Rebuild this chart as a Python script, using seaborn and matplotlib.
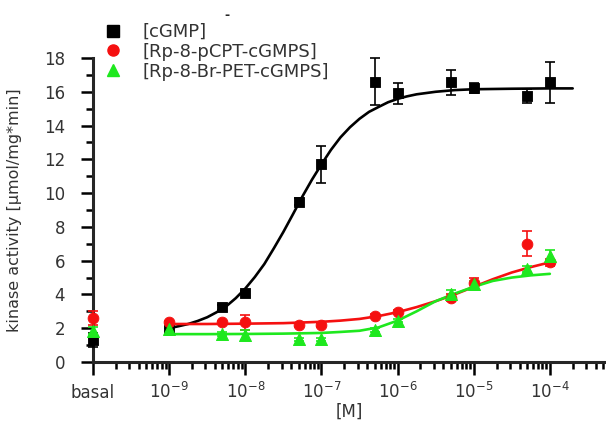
import numpy as np
import matplotlib
matplotlib.use('Agg')
import matplotlib.pyplot as plt
import matplotlib.ticker as mticker
from matplotlib.lines import Line2D
import seaborn as sns

# concentrations [M]; "basal" sits at the left end of the axis (1e-10)
conc = [1e-10, 1e-9, 5e-9, 1e-8, 5e-8, 1e-7, 5e-7, 1e-6, 5e-6, 1e-5, 5e-5, 1e-4]

cgmp = [1.3, 1.9, 3.25, 4.1, 9.5, 11.7, 16.6, 15.9, 16.55, 16.2, 15.75, 16.55]
cgmp_err = [0.4, 0.1, 0.15, 0.1, 0.2, 1.1, 1.4, 0.6, 0.75, 0.3, 0.4, 1.2]

pcpt = [2.6, 2.35, 2.35, 2.35, 2.2, 2.2, 2.75, 2.95, 3.8, 4.7, 7.0, 5.9]
pcpt_err = [0.4, 0.1, 0.1, 0.45, 0.1, 0.1, 0.1, 0.1, 0.2, 0.3, 0.75, 0.2]

brpet = [1.85, 1.95, 1.65, 1.6, 1.35, 1.35, 1.9, 2.45, 4.05, 4.6, 5.5, 6.25]
brpet_err = [0.2, 0.1, 0.1, 0.3, 0.1, 0.1, 0.1, 0.1, 0.2, 0.2, 0.2, 0.4]

# fitted curves (log10 of concentration)
fit_exp_cgmp = [-9.0, -8.875, -8.75, -8.625, -8.5, -8.375, -8.25, -8.125, -8.0,
                -7.875, -7.75, -7.625, -7.5, -7.375, -7.25, -7.125, -7.0,
                -6.875, -6.75, -6.625, -6.5, -6.375, -6.25, -6.125, -6.0,
                -5.875, -5.75, -5.5, -5.25, -5.0, -4.5, -4.0, -3.7]
fit_cgmp = [2.0, 2.12, 2.25, 2.43, 2.65, 2.95, 3.3, 3.78, 4.35,
            5.03, 5.8, 6.73, 7.7, 8.74, 9.8, 10.79, 11.7,
            12.56, 13.3, 13.9, 14.4, 14.81, 15.1, 15.38, 15.58,
            15.73, 15.85, 16.0, 16.1, 16.15, 16.18, 16.2, 16.2]

fit_exp = [-9.0, -8.5, -8.0, -7.5, -7.0, -6.75, -6.5, -6.25, -6.0, -5.75,
           -5.5, -5.25, -5.0, -4.75, -4.5, -4.25, -4.0]
fit_pcpt = [2.25, 2.25, 2.27, 2.3, 2.38, 2.45, 2.55, 2.72, 2.95, 3.25,
            3.6, 4.0, 4.45, 4.9, 5.3, 5.62, 5.9]
fit_brpet = [1.65, 1.65, 1.66, 1.68, 1.72, 1.78, 1.85, 2.05, 2.45, 3.0,
             3.6, 4.05, 4.45, 4.8, 5.0, 5.13, 5.22]

labels = ['[cGMP]', '[Rp-8-pCPT-cGMPS]', '[Rp-8-Br-PET-cGMPS]']
colors = ['#000000', '#f51010', '#1ee81e']
markers = ['s', 'o', '^']

xticks = [1e-10, 1e-9, 1e-8, 1e-7, 1e-6, 1e-5, 1e-4]
xticklabels = ['basal', '$10^{-9}$', '$10^{-8}$', '$10^{-7}$', '$10^{-6}$', '$10^{-5}$', '$10^{-4}$']

sns.set_style('ticks')
plt.rcParams['font.family'] = ['DejaVu Sans']
plt.rcParams['mathtext.fontset'] = 'dejavusans'

fig = plt.figure(figsize=(6.06, 4.24), dpi=100)
ax = fig.add_axes([93 / 606, 1 - 362 / 424, 512 / 606, 304 / 424])

series = [
    (cgmp, cgmp_err, fit_exp_cgmp, fit_cgmp),
    (pcpt, pcpt_err, fit_exp, fit_pcpt),
    (brpet, brpet_err, fit_exp, fit_brpet),
]

for i, (vals, errs, fx, fy) in enumerate(series):
    sns.lineplot(x=[10 ** e for e in fx], y=fy, color=colors[i], lw=1.9, ax=ax,
                 legend=False, zorder=2)
    ax.errorbar(conc, vals, yerr=errs, fmt='none', ecolor=colors[i], elinewidth=1.2,
                capsize=3.5, capthick=1.2, zorder=3, clip_on=False)
    sns.scatterplot(x=conc, y=vals, marker=markers[i], color=colors[i],
                    edgecolor=colors[i], s=60 if i < 2 else 75, ax=ax,
                    legend=False, zorder=4, clip_on=False)

ax.set_xscale('log')
ax.set_xlim(1e-10, 5.3e-4)
ax.set_ylim(0, 18)
ax.set_xticks(xticks)
ax.set_xticklabels(xticklabels)
ax.xaxis.set_minor_locator(mticker.LogLocator(base=10, subs=np.arange(2, 10), numticks=20))
ax.xaxis.set_minor_formatter(mticker.NullFormatter())
ax.set_yticks(range(0, 19, 2))
ax.yaxis.set_minor_locator(mticker.MultipleLocator(1))

for side in ['top', 'right']:
    ax.spines[side].set_visible(False)
for side in ['left', 'bottom']:
    ax.spines[side].set_linewidth(2.2)

ax.tick_params(which='major', length=9, width=1.8, labelsize=12,
               labelcolor='#333333', color='black')
ax.tick_params(which='minor', length=5, width=1.8, color='black')
ax.tick_params(axis='y', which='major', pad=11)
# keep "basal" and the powers of ten on one baseline
ax.tick_params(axis='x', which='major', pad=17)
for lab in ax.get_xticklabels():
    lab.set_verticalalignment('baseline')

fig.text(349 / 606, 1 - 412 / 424, '[M]', ha='center', va='center', fontsize=12,
         color='#333333')
ax.set_ylabel('kinase activity [\u03bcmol/mg*min]', fontsize=11.5, color='#333333')
ax.yaxis.set_label_coords(-0.139, 0.5)

handles = [Line2D([], [], ls='none', marker=markers[i], color=colors[i],
                  markersize=8 if i < 2 else 9) for i in range(3)]
ax.legend(handles, labels, loc='upper left', bbox_to_anchor=(102 / 606, 1 - 23 / 424),
          bbox_transform=fig.transFigure, frameon=False, fontsize=13,
          handlelength=1.2, handletextpad=1.05, labelspacing=0.1,
          borderpad=0, borderaxespad=0, labelcolor='#333333')

fig.text(227 / 606, 1 - 16 / 424, '-', ha='center', va='center', fontsize=9,
         fontweight='bold')

fig.savefig('out.png', dpi=100)
